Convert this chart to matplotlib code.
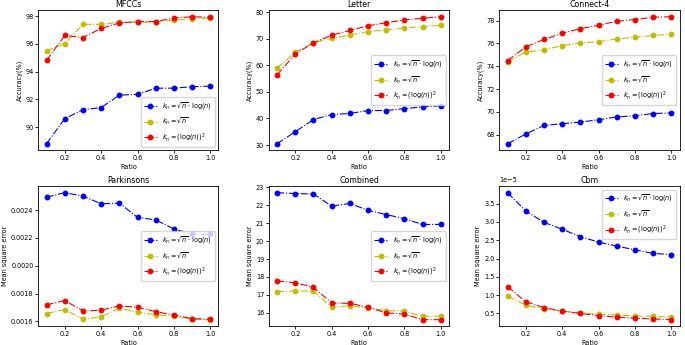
import matplotlib
matplotlib.use("Agg")
import matplotlib.pyplot as plt

ratio = [0.1, 0.2, 0.3, 0.4, 0.5, 0.6, 0.7, 0.8, 0.9, 1.0]

mfccs_sqrtlog = [88.8, 90.6, 91.25, 91.4, 92.3, 92.35, 92.8, 92.8, 92.9, 92.95]
mfccs_sqrt = [95.5, 96.0, 97.4, 97.4, 97.55, 97.55, 97.55, 97.7, 97.8, 97.85]
mfccs_log2 = [94.8, 96.6, 96.45, 97.1, 97.5, 97.6, 97.6, 97.85, 97.95, 97.9]

letter_sqrtlog = [30.5, 35.0, 39.6, 41.5, 41.9, 43.0, 43.0, 43.7, 44.4, 44.8]
letter_sqrt = [59.0, 65.0, 68.5, 70.3, 71.5, 72.8, 73.4, 74.2, 74.6, 75.2]
letter_log2 = [56.5, 64.3, 68.6, 71.4, 73.2, 75.0, 76.1, 77.2, 77.8, 78.4]

connect_sqrtlog = [67.2, 68.05, 68.8, 68.95, 69.1, 69.3, 69.55, 69.65, 69.85, 69.9]
connect_sqrt = [74.4, 75.25, 75.45, 75.8, 76.05, 76.15, 76.4, 76.55, 76.7, 76.8]
connect_log2 = [74.5, 75.7, 76.35, 76.9, 77.3, 77.6, 77.95, 78.1, 78.3, 78.35]

park_sqrtlog = [0.002494, 0.002526, 0.002502, 0.002446, 0.002451, 0.002349, 0.00233, 0.002265, 0.002228, 0.002226]
park_sqrt = [0.001656, 0.001685, 0.001615, 0.001634, 0.001694, 0.001665, 0.001648, 0.001636, 0.001617, 0.001612]
park_log2 = [0.001718, 0.00175, 0.001675, 0.00168, 0.001711, 0.001702, 0.00167, 0.001646, 0.001619, 0.001615]

comb_sqrtlog = [22.7, 22.65, 22.63, 21.95, 22.1, 21.72, 21.48, 21.25, 20.93, 20.93]
comb_sqrt = [17.18, 17.22, 17.22, 16.3, 16.4, 16.28, 16.12, 16.1, 15.8, 15.82]
comb_log2 = [17.78, 17.68, 17.43, 16.55, 16.53, 16.32, 16.0, 15.93, 15.62, 15.62]

cbm_sqrtlog = [3.8e-5, 3.3e-5, 2.99e-5, 2.8e-5, 2.6e-5, 2.45e-5, 2.34e-5, 2.24e-5, 2.14e-5, 2.11e-5]
cbm_sqrt = [0.97e-5, 0.73e-5, 0.63e-5, 0.57e-5, 0.51e-5, 0.48e-5, 0.46e-5, 0.43e-5, 0.42e-5, 0.40e-5]
cbm_log2 = [1.23e-5, 0.82e-5, 0.66e-5, 0.56e-5, 0.50e-5, 0.44e-5, 0.40e-5, 0.37e-5, 0.35e-5, 0.33e-5]

labels = [r"$k_n=\sqrt{n}\cdot\log(n)$", r"$k_n=\sqrt{n}$", r"$k_n=(\log(n))^2$"]
colors = ["b", "y", "r"]

panels = [
    ("MFCCs", "Accuracy(%)", [mfccs_sqrtlog, mfccs_sqrt, mfccs_log2], "lower right"),
    ("Letter", "Accuracy(%)", [letter_sqrtlog, letter_sqrt, letter_log2], "center right"),
    ("Connect-4", "Accuracy(%)", [connect_sqrtlog, connect_sqrt, connect_log2], "center right"),
    ("Parkinsons", "Mean square error", [park_sqrtlog, park_sqrt, park_log2], "center right"),
    ("Combined", "Mean square error", [comb_sqrtlog, comb_sqrt, comb_log2], "center right"),
    ("Cbm", "Mean square error", [cbm_sqrtlog, cbm_sqrt, cbm_log2], "upper right"),
]

fs = 4.7

fig, axes = plt.subplots(2, 3, figsize=(6.85, 3.45), dpi=100)
fig.subplots_adjust(left=0.056, right=0.992, top=0.97, bottom=0.055,
                    wspace=0.28, hspace=0.26)

for ax, (title, ylabel, series, loc) in zip(axes.flat, panels):
    for ys, c, lab in zip(series, colors, labels):
        ax.plot(ratio, ys, "-.", color=c, marker="o", markersize=3.2,
                linewidth=0.8, label=lab)
    ax.set_title(title, fontsize=5.7, pad=2.5)
    ax.set_xlabel("Ratio", fontsize=fs, labelpad=2)
    ax.set_ylabel(ylabel, fontsize=fs, labelpad=2)
    ax.set_xticks([0.2, 0.4, 0.6, 0.8, 1.0])
    ax.tick_params(labelsize=fs, length=2, width=0.6, pad=1.5)
    for s in ax.spines.values():
        s.set_linewidth(0.6)
    ax.yaxis.get_offset_text().set_fontsize(fs)
    ax.legend(loc=loc, fontsize=fs, handlelength=2, borderpad=0.5,
              labelspacing=0.6)

fig.savefig("out.png", dpi=100)
